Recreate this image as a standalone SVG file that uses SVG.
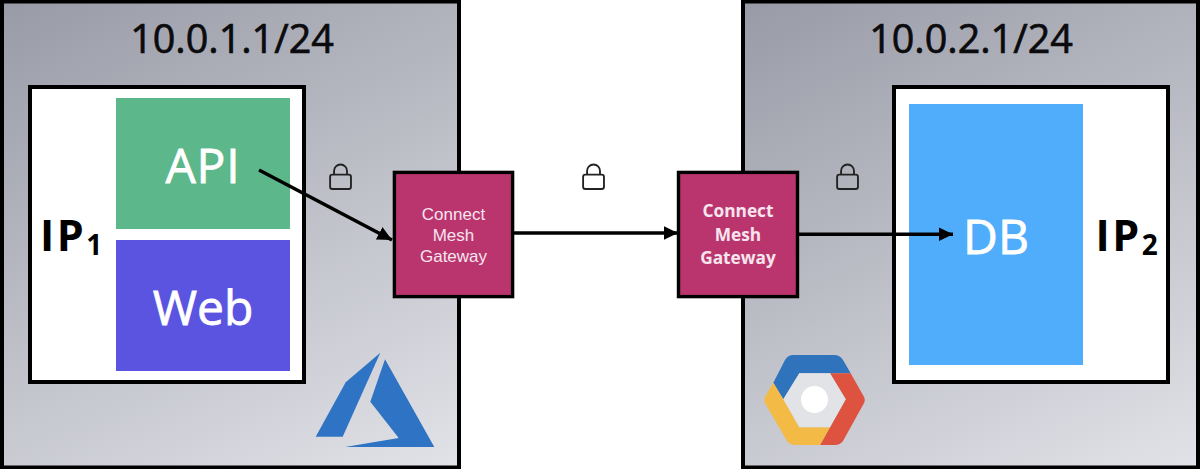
<svg xmlns="http://www.w3.org/2000/svg" width="1200" height="469" viewBox="0 0 1200 469">
<defs>
<linearGradient id="g1" gradientUnits="userSpaceOnUse" x1="0" y1="0" x2="272" y2="560"><stop offset="0" stop-color="#989aa6"/><stop offset="1" stop-color="#e2e3e8"/></linearGradient>
<linearGradient id="g2" gradientUnits="userSpaceOnUse" x1="742" y1="0" x2="1014" y2="560"><stop offset="0" stop-color="#989aa6"/><stop offset="1" stop-color="#e2e3e8"/></linearGradient>
<marker id="arrow" markerUnits="userSpaceOnUse" markerWidth="15" markerHeight="15" refX="14.500" refY="7" orient="auto"><path d="M0,0L14.500,7L0,14Z" fill="#000"/></marker>
<symbol id="lock" viewBox="0 0 26 30" overflow="visible"><rect x="1.2" y="12.5" width="22.6" height="15.5" rx="2.5"/><path d="M5.5,12.5V8.5a7,7 0 0 1 14,0V12.5"/></symbol>
</defs>
<style>
text{font-family:"Open Sans","Noto Sans",sans-serif}
.box{stroke:#000;stroke-width:4}
.w{fill:#fff}
.t{fill:#0b0b0d;stroke:#0b0b0d;stroke-width:.7px;font-size:39.500px;text-anchor:middle}
.ip{fill:#000;font-size:43px;font-weight:700;text-anchor:middle;letter-spacing:2.500px}
.sub{font-size:28px}
.app{fill:#fff;stroke:#fff;stroke-width:.8px;text-anchor:middle;font-size:48px}
.gw{fill:#ba356e;stroke:#000;stroke-width:3.400}
.gt{fill:#f7e5ee;font-size:17px;text-anchor:middle;font-family:"Liberation Sans",Arial,sans-serif}
.gb{fill:#f7e5ee;font-size:17.300px;font-weight:700;text-anchor:middle}
.lock{fill:none;stroke:#222;stroke-width:2}
.c{fill:none;stroke:#000;stroke-width:3.600;marker-end:url(#arrow)}
</style>
<g id="region-left"><rect class="box" x="2" y="1.500" width="457" height="466" fill="url(#g1)"/><text class="t" x="232" y="53">10.0.1.1/24</text></g>
<g id="region-right"><rect class="box" x="743" y="1.500" width="455" height="466" fill="url(#g2)"/><text class="t" x="971" y="53">10.0.2.1/24</text></g>
<g id="host-1"><rect class="box w" x="30" y="87" width="274" height="295"/><text class="ip" x="72.500" y="251">IP<tspan class="sub" dy="4">1</tspan></text></g>
<g id="host-2"><rect class="box w" x="894" y="87" width="274" height="295"/><text class="ip" x="1128" y="251">IP<tspan class="sub" dy="4">2</tspan></text></g>
<g id="api"><rect x="116" y="98" width="174" height="131" fill="#5cb78a"/><text class="app" x="203" y="183" letter-spacing=".8">API</text></g>
<g id="web"><rect x="116" y="240" width="174" height="131" fill="#5a54e0"/><text class="app" x="203" y="325">Web</text></g>
<g id="db"><rect x="909" y="104" width="174" height="261" fill="#50adfb"/><text class="app" x="996" y="254">DB</text></g>
<g id="connectors">
<path class="c" d="M259,170L392,240"/>
<path class="c" d="M514,233H678"/>
<path class="c" d="M799,234.300H953"/>
</g>
<g id="gateway-1"><rect class="gw" x="394.400" y="172.400" width="118.200" height="124.200"/><text class="gt" x="453.500" y="220">Connect</text><text class="gt" x="453.500" y="241">Mesh</text><text class="gt" x="453.500" y="262">Gateway</text></g>
<g id="gateway-2"><rect class="gw" x="678.500" y="172.400" width="119" height="124.200"/><text class="gb" x="738" y="217">Connect</text><text class="gb" x="738" y="240.500">Mesh</text><text class="gb" x="738" y="264">Gateway</text></g>
<g id="lock-1"><use href="#lock" class="lock" x="329" y="163" width="24" height="28"/></g>
<g id="lock-2"><use href="#lock" class="lock" x="582" y="163" width="24" height="28"/></g>
<g id="lock-3"><use href="#lock" class="lock" x="836" y="163" width="24" height="28"/></g>
<g id="azure-logo" fill="#2f74c4">
<path d="M380.300,352.700L345.700,382.300L315.700,436.700H342.700Z"/>
<path d="M385,359.300L370.300,401.700L398.700,438L345,447H434.300Z"/>
</g>
<g id="gcp-logo">
<path d="M773.300,382.700L785,360Q788,355 793,355H834Q840,355 843,360L850.700,373.300H799.300L783.300,399.300Z" fill="#3073bd"/>
<path d="M830,373.300H850.700L863.500,396Q866,400 863.500,404L843,441Q840,445 835,445H820L830,427.300L845.700,399.300Z" fill="#dd533f"/>
<path d="M773.300,382.700L783.300,399.300L799.300,427.300H830L820,445H795Q790,445 787,441L765.500,404Q763,400 765.500,396Z" fill="#f3bb45"/>
<path d="M799.300,373.300H830L845.700,399.300L830,427.300H799.300L783.300,399.300Z" fill="#e1e3e6"/>
<circle cx="814.500" cy="399.500" r="13.500" fill="#fff"/>
</g>
</svg>
